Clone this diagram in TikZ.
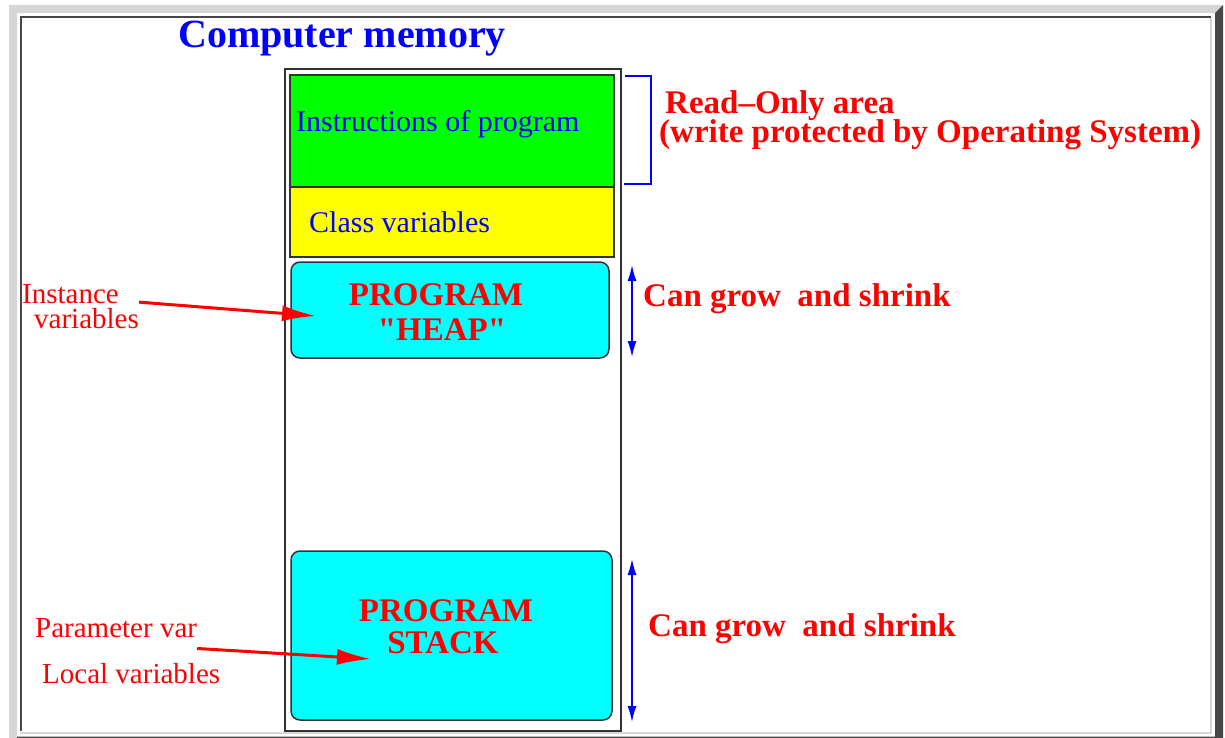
\documentclass[tikz,border=0pt]{standalone}
\usepackage{fontspec}
\setmainfont{Liberation Serif}
\usetikzlibrary{arrows.meta}

\definecolor{framelight}{HTML}{D6D6D6}
\definecolor{framedark}{HTML}{474747}
\definecolor{memgreen}{HTML}{00FF00}
\definecolor{memyellow}{HTML}{FFFF00}
\definecolor{memcyan}{HTML}{00FFFF}

\begin{document}
\begin{tikzpicture}[x=1pt,y=-1pt,
  box/.style={draw=black!80,line width=1.5pt,inner sep=0pt,outer sep=0pt},
  areabox/.style={box,rounded corners=9pt,fill=memcyan},
  bluetext/.style={text=blue,inner sep=0pt,font=\fontsize{30}{36}\selectfont},
  redbig/.style={text=red,inner sep=0pt,font=\bfseries\fontsize{33}{40}\selectfont},
  redsmall/.style={text=red,inner sep=0pt,font=\fontsize{29}{34}\selectfont},
  pointer/.style={red,line width=3pt,-{Latex[length=34pt,width=16pt]}},
  growarrow/.style={blue,line width=1.5pt,{Latex[length=16pt,width=9pt]}-{Latex[length=16pt,width=9pt]}}]
\def\W{1225}
\def\H{738}
\useasboundingbox (0,0) rectangle (\W,\H);

% bevelled frame
\fill[framelight] (9,\H) -- (9,5) -- (1223,5) -- (1215,13) -- (17,13) -- (17,\H) -- cycle;
\fill[framedark] (1223,5) -- (1223,\H) -- (17,\H) -- (17,736.5) -- (1215,736.5) -- (1215,13) -- cycle;
\draw[framedark,line width=2pt] (21,731) -- (21,16.7) -- (1211,16.7);
\draw[framelight,line width=2pt] (1211,17.7) -- (1211,732.7) -- (20,732.7);

% title
\node[anchor=base west,inner sep=0pt,text=blue,font=\bfseries\fontsize{40}{48}\selectfont]
  (title) at (178,48) {Computer memory};

% memory blocks
\node[box,minimum width=336,minimum height=662] (mem) at (453,400) {};
\node[box,fill=memgreen,minimum width=324,minimum height=112] (instr) at (452,131) {};
\node[box,fill=memyellow,minimum width=324,minimum height=70] (cls) at (452,222) {};
\node[areabox,minimum width=318,minimum height=96] (heap) at (450,310) {};
\node[areabox,minimum width=321,minimum height=169] (stack) at (451.5,635.5) {};

\node[bluetext,anchor=base west] (instrtext) at (296,132) {Instructions of program};
\node[bluetext,anchor=base west] (clstext) at (309,232) {Class variables};

\node[redbig,anchor=base] (heapa) at (436,305) {PROGRAM};
\node[redbig,anchor=base] (heapb) at (442,340) {\textquotedbl HEAP\textquotedbl};
\node[redbig,anchor=base] (stacka) at (446,621) {PROGRAM};
\node[redbig,anchor=base] (stackb) at (443,653) {STACK};

% read-only bracket
\draw[blue,line width=1.5pt] (625,76) -| (651,184) -- (624,184);
\node[redbig,anchor=base west,align=left,
  font=\bfseries\fontsize{33}{29}\selectfont\lineskiplimit-20pt\relax] (ro) at (659,143)
  {\hspace*{6pt}Read--Only area\\(write protected by Operating System)};

% grow and shrink
\coordinate (heaptop) at (632,265);
\coordinate (heapbot) at (632,357);
\coordinate (stacktop) at (632,559);
\coordinate (stackbot) at (632,722);
\draw[growarrow] (heaptop) -- (heapbot);
\draw[growarrow] (stacktop) -- (stackbot);
\node[redbig,anchor=base west] (heapgrow) at (643,306) {Can grow~~and shrink};
\node[redbig,anchor=base west] (stackgrow) at (648,636) {Can grow~~and shrink};

% variables pointing in
\node[redsmall,anchor=base west,align=left,
  font=\fontsize{29}{25}\selectfont\lineskiplimit-20pt\relax] (inst) at (22,328)
  {Instance\\\hspace*{12pt}variables};
\node[redsmall,anchor=base west] (param) at (35,637) {Parameter var};
\node[redsmall,anchor=base west] (local) at (42,683) {Local variables};
\coordinate (heapin) at (316,316);
\coordinate (stackin) at (371,659);
\draw[pointer] ([yshift=4pt]inst.east) -- (heapin);
\draw[pointer] ([yshift=-11pt]param.south east) -- (stackin);

\end{tikzpicture}
\end{document}
